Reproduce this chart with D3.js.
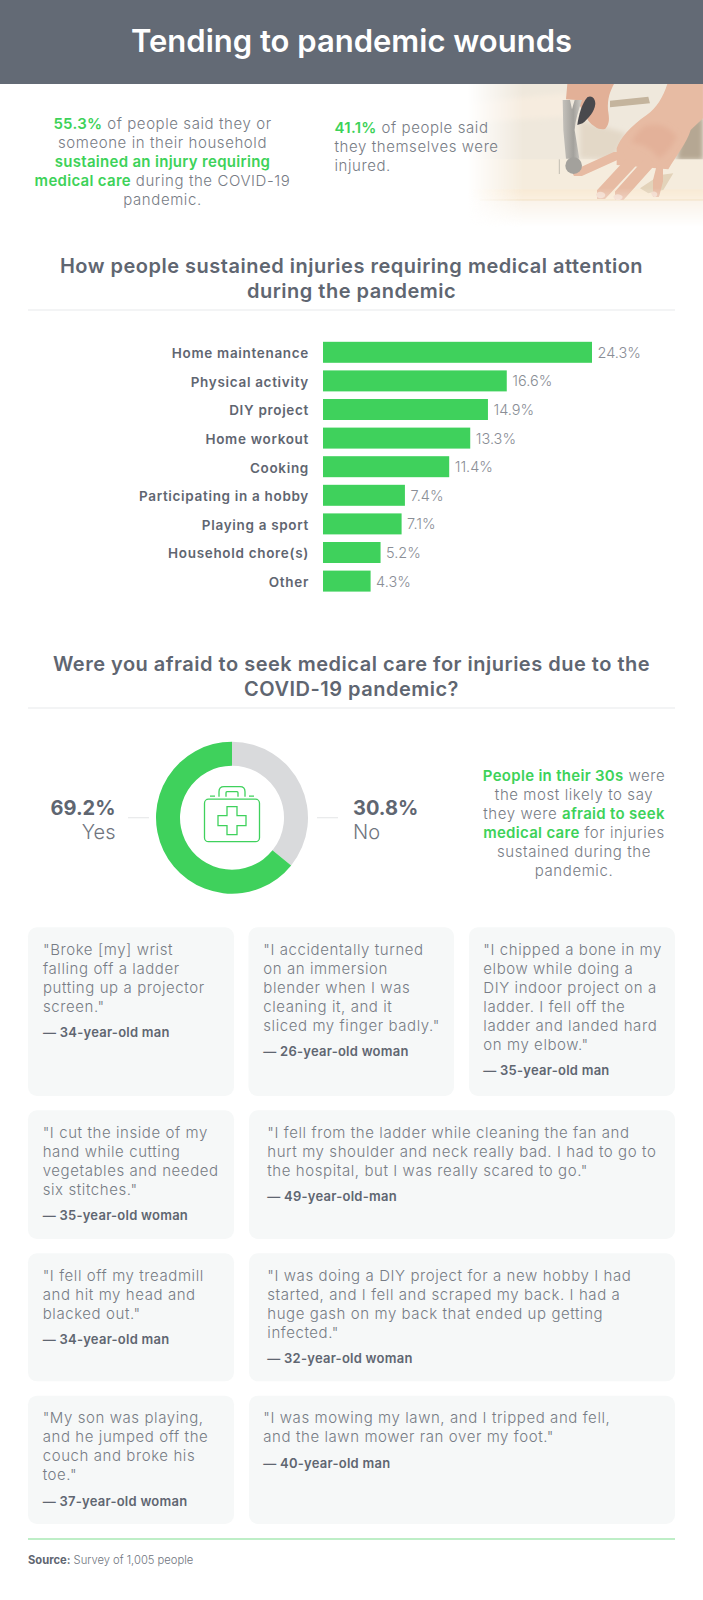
<!DOCTYPE html>
<html>
<head>
<meta charset="utf-8">
<title>Tending to pandemic wounds</title>
<script src="https://cdn.jsdelivr.net/npm/d3@7"></script>
<style>
	html, body { margin: 0; padding: 0; background: #fff; }
	svg { display: block; }
	text { font-family: Inter, Lato, sans-serif; }
	.body { font-size: 15px; font-weight: 300; fill: #777c85; letter-spacing: 0.58px; }
	.em { font-weight: 600; fill: #3dd259; letter-spacing: 0.3px; }
	.heading { font-size: 20px; font-weight: 600; fill: #5f6671; text-anchor: middle; letter-spacing: 0.5px; }
	.attr { font-size: 13px; font-weight: 600; fill: #5f6671; letter-spacing: 0.25px; }
	.axis text { font-size: 13.5px; font-weight: 600; fill: #5f6671; letter-spacing: 0.68px; }
	.value { font-size: 14.5px; font-weight: 300; fill: #8a8e96; }
</style>
</head>
<body>
<svg id="chart" width="703" height="1600"></svg>
<script>
'use strict';

var categories = ['Home maintenance', 'Physical activity', 'DIY project', 'Home workout', 'Cooking', 'Participating in a hobby', 'Playing a sport', 'Household chore(s)', 'Other'];
var shares = [24.3, 16.6, 14.9, 13.3, 11.4, 7.4, 7.1, 5.2, 4.3];

var donutLabels = ['No', 'Yes'];
var donutPrinted = ['30.8%', '69.2%'];
// the ring in the picture is not drawn to its printed numbers: grey ends near 129 degrees
var donutDrawn = [35.8, 64.2];

var titleText = 'Tending to pandemic wounds';
var headingOne = ['How people sustained injuries requiring medical attention', 'during the pandemic'];
var headingTwo = ['Were you afraid to seek medical care for injuries due to the', 'COVID-19 pandemic?'];

var introLeft = [
	[['55.3%', 1], [' of people said they or', 0]],
	[['someone in their household', 0]],
	[['sustained an injury requiring', 1]],
	[['medical care', 1], [' during the COVID-19', 0]],
	[['pandemic.', 0]]
];
var introRight = [
	[['41.1%', 1], [' of people said', 0]],
	[['they themselves were', 0]],
	[['injured.', 0]]
];
var donutNote = [
	[['People in their 30s', 1], [' were', 0]],
	[['the most likely to say', 0]],
	[['they were ', 0], ['afraid to seek', 1]],
	[['medical care', 1], [' for injuries', 0]],
	[['sustained during the', 0]],
	[['pandemic.', 0]]
];

var quotes = [
	['"Broke [my] wrist', 'falling off a ladder', 'putting up a projector', 'screen."'],
	['"I accidentally turned', 'on an immersion', 'blender when I was', 'cleaning it, and it', 'sliced my finger badly."'],
	['"I chipped a bone in my', 'elbow while doing a', 'DIY indoor project on a', 'ladder. I fell off the', 'ladder and landed hard', 'on my elbow."'],
	['"I cut the inside of my', 'hand while cutting', 'vegetables and needed', 'six stitches."'],
	['"I fell from the ladder while cleaning the fan and', 'hurt my shoulder and neck really bad. I had to go to', 'the hospital, but I was really scared to go."'],
	['"I fell off my treadmill', 'and hit my head and', 'blacked out."'],
	['"I was doing a DIY project for a new hobby I had', 'started, and I fell and scraped my back. I had a', 'huge gash on my back that ended up getting', 'infected."'],
	['"My son was playing,', 'and he jumped off the', 'couch and broke his', 'toe."'],
	['"I was mowing my lawn, and I tripped and fell,', 'and the lawn mower ran over my foot."']
];
var attributions = ['— 34-year-old man', '— 26-year-old woman', '— 35-year-old man', '— 35-year-old woman', '— 49-year-old-man', '— 34-year-old man', '— 32-year-old woman', '— 37-year-old woman', '— 40-year-old man'];

var GREEN = '#3fd15c';
var svg = d3.select('#chart');

function writeLines(parent, lines, x, y, step, anchor) {
	lines.forEach(function (segments, i) {
		var line = parent.append('text')
			.attr('class', 'body')
			.attr('x', x)
			.attr('y', y + i * step)
			.attr('text-anchor', anchor);
		segments.forEach(function (seg) {
			line.append('tspan')
				.attr('class', seg[1] ? 'em' : null)
				.style('white-space', 'pre')
				.text(seg[0]);
		});
	});
}

function heading(lines, y) {
	lines.forEach(function (d, i) {
		svg.append('text')
			.attr('class', 'heading')
			.attr('x', 351.5)
			.attr('y', y + i * 25)
			.text(d);
	});
}

function rule(y, color, width) {
	svg.append('line')
		.attr('x1', 28)
		.attr('x2', 675)
		.attr('y1', y)
		.attr('y2', y)
		.attr('stroke', color)
		.attr('stroke-width', width);
}

function drawPhoto() {
	var defs = svg.append('defs');

	var fadeX = defs.append('linearGradient').attr('id', 'fadeX');
	fadeX.append('stop').attr('offset', '0.03').attr('stop-color', '#000');
	fadeX.append('stop').attr('offset', '0.26').attr('stop-color', '#fff');
	var fadeY = defs.append('linearGradient').attr('id', 'fadeY').attr('x2', 0).attr('y2', 1);
	fadeY.append('stop').attr('offset', '0.72').attr('stop-color', '#fff');
	fadeY.append('stop').attr('offset', '0.98').attr('stop-color', '#000');
	var steel = defs.append('linearGradient').attr('id', 'steel');
	steel.append('stop').attr('offset', '0').attr('stop-color', '#c4c1bb');
	steel.append('stop').attr('offset', '0.55').attr('stop-color', '#a3a19c');
	steel.append('stop').attr('offset', '1').attr('stop-color', '#d2cfc9');

	defs.append('mask').attr('id', 'maskX').attr('maskUnits', 'userSpaceOnUse')
		.attr('x', 0).attr('y', 0).attr('width', 729).attr('height', 450)
		.append('rect').attr('width', 729).attr('height', 450).attr('fill', 'url(#fadeX)');
	defs.append('mask').attr('id', 'maskY').attr('maskUnits', 'userSpaceOnUse')
		.attr('x', 0).attr('y', 0).attr('width', 729).attr('height', 450)
		.append('rect').attr('width', 729).attr('height', 450).attr('fill', 'url(#fadeY)');
	defs.append('filter').attr('id', 'soft').append('feGaussianBlur').attr('stdDeviation', 1.6);
	defs.append('filter').attr('id', 'softer').append('feGaussianBlur').attr('stdDeviation', 8);

	// zoomed crop coordinates, 3 units to the pixel
	var photo = svg.append('g')
		.attr('transform', 'translate(460,80) scale(0.3333)')
		.append('g').attr('mask', 'url(#maskY)')
		.append('g').attr('mask', 'url(#maskX)');

	function shape(d, fill, blur) {
		photo.append('path').attr('d', d).attr('fill', fill).attr('filter', blur || 'url(#soft)');
	}

	function finger(d, width, color) {
		photo.append('path')
			.attr('d', d)
			.attr('fill', 'none')
			.attr('stroke', color)
			.attr('stroke-width', width)
			.attr('stroke-linecap', 'round')
			.attr('filter', 'url(#soft)');
	}

	photo.append('rect').attr('y', 12).attr('width', 729).attr('height', 430).attr('fill', '#efe8dc');
	shape('M0 70L320 40L320 110L0 130Z', '#f6ecdf', 'url(#softer)');
	shape('M360 120L500 160L460 240L360 235Z', '#e3d8c7', 'url(#softer)');
	shape('M450 62L565 50L570 70L450 82Z', '#c4b49d');
	shape('M665 150L729 105L729 240L650 240Z', '#b5a793', 'url(#softer)');
	photo.append('rect').attr('y', 238).attr('width', 729).attr('height', 100).attr('fill', '#f5ecdd');
	photo.append('rect').attr('y', 328).attr('width', 729).attr('height', 32).attr('fill', '#f8e9d3');
	photo.append('rect').attr('y', 360).attr('width', 729).attr('height', 82).attr('fill', '#f7eddf');
	photo.append('line').attr('x1', 60).attr('x2', 729).attr('y1', 360).attr('y2', 360).attr('stroke', '#ebd3ad').attr('stroke-width', 3);

	// shadow under fingers
	shape('M540 325L600 285L640 280L610 330L565 340Z', '#e3d3ba');

	// right hand flat on the board
	var skin = '#e7bba3';
	shape('M622 12L729 12L729 115L692 150C680 190 650 225 625 268L470 255L470 205C480 175 510 140 560 105C590 85 610 50 622 12Z', skin);
	finger('M480 222L352 280', 26, skin);
	finger('M515 245L422 345', 36, skin);
	finger('M565 250L475 350', 36, skin);
	finger('M606 255L584 342', 30, skin);
	shape('M550 140C590 125 630 140 650 170C635 205 610 230 595 235C575 205 545 190 515 190C520 170 535 155 550 140Z', '#e3b199', 'url(#softer)');
	shape('M408 344C410 332 432 332 436 344C436 356 412 360 408 344Z', '#f2d9ca');
	shape('M460 350C462 340 484 340 488 350C488 362 464 366 460 350Z', '#f2d9ca');
	shape('M574 340C576 332 590 332 592 342C592 354 576 356 574 340Z', '#f2d9ca');

	// gripping hand and hammer
	shape('M322 12L462 12C450 35 442 55 444 90C448 115 450 130 436 146C420 152 400 140 385 122L350 60L318 58Z', '#e2b097');
	shape('M308 60L330 60L336 88L344 60L366 60C356 90 346 120 344 150L358 236L318 236L310 150Z', 'url(#steel)');
	shape('M352 135C356 105 366 70 382 52C395 45 406 55 406 72C404 95 385 115 368 130Z', '#4a494d');
	photo.append('ellipse').attr('cx', 341).attr('cy', 257).attr('rx', 25).attr('ry', 25).attr('fill', '#a3a19c').attr('filter', 'url(#soft)');
	photo.append('line').attr('x1', 298).attr('x2', 298).attr('y1', 238).attr('y2', 282).attr('stroke', '#c2bdb2').attr('stroke-width', 3);
}

function drawBars() {
	var y = d3.scaleBand()
		.domain(categories)
		.range([338, 595.4])
		.paddingInner(0.266)
		.paddingOuter(0.133)
		.align(0.5);
	var x = d3.scaleLinear()
		.domain([0, 24.3])
		.range([323, 592]);

	svg.append('g')
		.attr('class', 'axis')
		.attr('transform', 'translate(323,1.5)')
		.call(d3.axisLeft(y).tickSize(0).tickPadding(14))
		.call(function (g) {
			g.select('.domain').remove();
		});

	var rows = svg.append('g')
		.selectAll('g')
		.data(categories)
		.enter()
		.append('g');

	rows.append('rect')
		.attr('x', x(0))
		.attr('y', function (d) { return y(d); })
		.attr('width', function (d, i) { return x(shares[i]) - x(0); })
		.attr('height', y.bandwidth())
		.attr('fill', GREEN);

	rows.append('text')
		.attr('class', 'value')
		.attr('x', function (d, i) { return x(shares[i]) + 5.5; })
		.attr('y', function (d) { return y(d) + y.bandwidth() / 2 + 5.5; })
		.text(function (d, i) { return shares[i] + '%'; });
}

function drawDonut() {
	var cx = 232;
	var cy = 817.7;
	var g = svg.append('g').attr('transform', 'translate(' + cx + ',' + cy + ')');
	var pie = d3.pie().sort(null);
	var arc = d3.arc().innerRadius(52).outerRadius(76);
	var colors = d3.scaleOrdinal().domain(donutLabels).range(['#d9dadc', GREEN]);

	g.selectAll('path')
		.data(pie(donutDrawn))
		.enter()
		.append('path')
		.attr('d', arc)
		.attr('fill', function (d, i) { return colors(donutLabels[i]); });

	// first aid kit
	var icon = g.append('g')
		.attr('fill', 'none')
		.attr('stroke', GREEN)
		.attr('stroke-width', 1.3);
	icon.append('rect').attr('x', -27.5).attr('y', -18.5).attr('width', 55).attr('height', 42.5).attr('rx', 4);
	icon.append('path').attr('d', 'M-13 -21V-26Q-13 -31 -8 -31H8Q13 -31 13 -26V-21');
	icon.append('path').attr('d', 'M-6 -21V-25Q-6 -26 -5 -26H5Q6 -26 6 -25V-21');
	icon.append('path').attr('d', 'M-22 -21.5H-17M17 -21.5H22');
	icon.append('path').attr('d', 'M-5 -11H5V-2H14V8H5V17H-5V8H-14V-2H-5Z');

	[[128, 149], [317, 338]].forEach(function (d) {
		svg.append('line')
			.attr('x1', d[0])
			.attr('x2', d[1])
			.attr('y1', cy)
			.attr('y2', cy)
			.attr('stroke', '#e8e9ea')
			.attr('stroke-width', 1.2);
	});

	[[115.5, 'end', 1], [353, 'start', 0]].forEach(function (d) {
		svg.append('text')
			.attr('x', d[0])
			.attr('y', 815)
			.attr('text-anchor', d[1])
			.attr('font-size', 20)
			.attr('font-weight', 700)
			.attr('fill', '#5f6671')
			.text(donutPrinted[d[2]]);
		svg.append('text')
			.attr('x', d[0])
			.attr('y', 839)
			.attr('text-anchor', d[1])
			.attr('font-size', 20)
			.attr('font-weight', 300)
			.attr('fill', '#70757e')
			.text(donutLabels[d[2]]);
	});
}

function drawCards() {
	var rowTop = [927.3, 927.3, 927.3, 1110.3, 1110.3, 1253.3, 1253.3, 1395.7, 1395.7];
	var rowHeight = [168.7, 168.7, 168.7, 128.7, 128.7, 128, 128, 128.3, 128.3];
	var cardLeft = [28, 248.5, 469, 28, 249, 28, 249, 28, 249];
	var cardWidth = [206, 205.5, 206, 206, 426, 206, 426, 206, 426];
	var textLeft = [43, 263.3, 483.3, 42.7, 267.3, 42.7, 267.3, 42.7, 263.3];

	var cards = svg.append('g')
		.selectAll('g')
		.data(quotes)
		.enter()
		.append('g');

	cards.append('rect')
		.attr('x', function (d, i) { return cardLeft[i]; })
		.attr('y', function (d, i) { return rowTop[i]; })
		.attr('width', function (d, i) { return cardWidth[i]; })
		.attr('height', function (d, i) { return rowHeight[i]; })
		.attr('rx', 9)
		.attr('fill', '#f6f8f8');

	cards.each(function (lines, i) {
		var card = d3.select(this);
		var base = rowTop[i] + 27.5;
		lines.forEach(function (line, k) {
			card.append('text')
				.attr('class', 'body')
				.attr('x', textLeft[i])
				.attr('y', base + k * 19)
				.text(line);
		});
		card.append('text')
			.attr('class', 'attr')
			.attr('x', textLeft[i])
			.attr('y', base + (lines.length - 1) * 19 + 25.5)
			.text(attributions[i]);
	});
}

drawPhoto();
svg.append('rect').attr('width', 703).attr('height', 84).attr('fill', '#636a75');
svg.append('text')
	.attr('x', 351.5)
	.attr('y', 52)
	.attr('text-anchor', 'middle')
	.attr('font-size', 31)
	.attr('font-weight', 600)
	.attr('fill', '#fff')
	.text(titleText);

writeLines(svg, introLeft, 162.5, 129, 19, 'middle');
writeLines(svg, introRight, 334.5, 133, 19, 'start');

heading(headingOne, 273);
rule(310, '#e8eaeb', 1.2);
drawBars();

heading(headingTwo, 671);
rule(708, '#e8eaeb', 1.2);
drawDonut();
writeLines(svg, donutNote, 574, 781, 19, 'middle');

drawCards();

rule(1539, '#a9e8b5', 1.4);
var source = svg.append('text')
	.attr('x', 28)
	.attr('y', 1564)
	.attr('font-size', 11.2)
	.attr('font-weight', 300)
	.attr('fill', '#70757e');
source.append('tspan').attr('font-weight', 700).attr('fill', '#5f6671').text('Source:');
source.append('tspan').text(' Survey of 1,005 people');
</script>
</body>
</html>
